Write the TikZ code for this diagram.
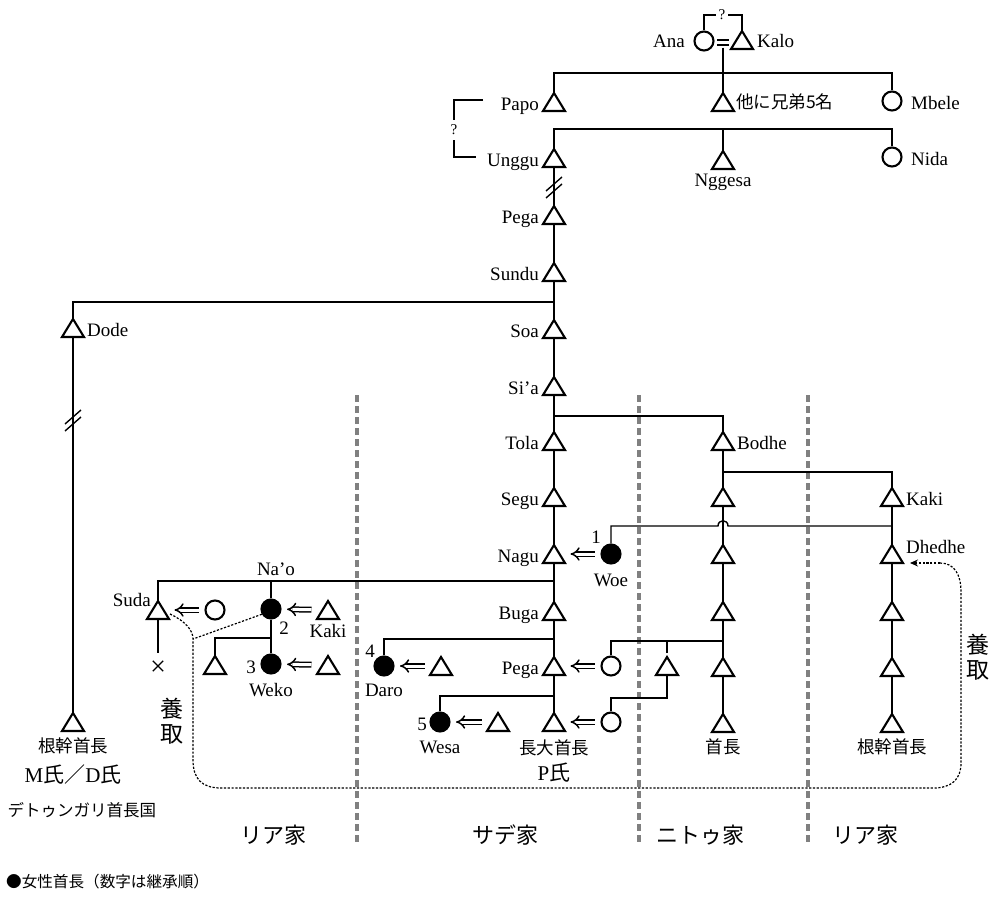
\documentclass[tikz,border=0pt]{standalone}
\usepackage{fontspec}
\setmainfont{Liberation Serif}
\newfontfamily\jp{Noto Sans CJK JP}
\usetikzlibrary{arrows.meta}
\tikzset{
 ln/.style={line width=1.4pt},
 shp/.style={line width=2.1pt},
 tri/.style={inner sep=0pt, outer sep=0pt, minimum width=22pt, minimum height=18pt},
 fem/.style={circle, draw, line width=2.1pt, minimum size=19pt, inner sep=0pt},
 ffem/.style={fem, fill=black},
 lbl/.style={inner sep=0pt, font=\fontsize{19}{21}\selectfont},
 qlbl/.style={inner ysep=5pt, inner xsep=2.5pt, font=\fontsize{15}{16}\selectfont},
 jlbl/.style={inner sep=0pt, font=\jp\fontsize{17.5}{20}\selectfont},
 jbig/.style={inner sep=0pt, font=\jp\fontsize{22}{24}\selectfont},
 imp/.style={double, double distance=3pt, line width=1.5pt, -{Implies}, shorten >=5.5pt, shorten <=5.5pt},
 dot/.style={line width=1.2pt, dash pattern=on 2.2pt off 1.6pt},
 sep/.style={line width=4pt, gray, dash pattern=on 7pt off 4pt},
}
\newcommand\kinT[2]{\node[tri] (#1) at (#2) {};\draw[shp] (#1.north)--(#1.south west)--(#1.south east)--cycle;}
\newcommand\kinBreak[1]{\draw[ln] ([shift={(-8,3)}]#1) -- ([shift={(8,-11)}]#1) ([shift={(-8,10)}]#1) -- ([shift={(8,-4)}]#1);}
\begin{document}
\begin{tikzpicture}[x=1pt,y=-1pt]
\useasboundingbox (0,0) rectangle (994,897);

% separators
\draw[sep] (357,395) -- (357,845);
\draw[sep] (639,395) -- (639,845);
\draw[sep] (808,395) -- (808,845);

% top couple
\node[fem] (ana) at (704,41) {};
\kinT{kalo}{742,40}
\node[lbl, anchor=base east] (anaL) at (685,47) {Ana};
\node[lbl, anchor=base west] (kaloL) at (757,47) {Kalo};
\node[qlbl] (q1) at (722,15) {?};
\draw[ln] (q1.west) -- (ana.north |- q1) -- (ana.north);
\draw[ln] (q1.east) -- (kalo.north |- q1) -- (kalo.north);
\coordinate (eq) at (723,42.5);
\draw[line width=1.8pt] ([shift={(-6,-2.7)}]eq) -- ([shift={(6,-2.7)}]eq) ([shift={(-6,2.7)}]eq) -- ([shift={(6,2.7)}]eq);
\coordinate (s1) at (723,73);
\draw[ln] ([shift={(0,5)}]eq) -- (s1);

% row 1
\kinT{papo}{554,102}
\kinT{oth}{723,102}
\node[fem] (mbele) at (892,101) {};
\draw[ln] (papo.north) -- (papo.north |- s1) -- (mbele.north |- s1) -- (mbele.north);
\draw[ln] (oth.north) -- (s1);
\node[lbl, anchor=base east] (papoL) at (539,110) {Papo};
\node[jlbl, anchor=west] (othL) at (736,102) {他に兄弟5名};
\node[lbl, anchor=base west] (mbeleL) at (911,109) {Mbele};

% row 2
\coordinate (s2) at (723,129);
\kinT{unggu}{554,158}
\kinT{ngg}{723,160}
\node[fem] (nida) at (892,157) {};
\draw[ln] (unggu.north) -- (unggu.north |- s2) -- (nida.north |- s2) -- (nida.north);
\draw[ln] (ngg.north) -- (s2);
\node[lbl, anchor=base east] (ungguL) at (539,166) {Unggu};
\node[lbl, anchor=base] (nggL) at (723,186) {Nggesa};
\node[lbl, anchor=base west] (nidaL) at (911,165) {Nida};

% ? bracket
\node[qlbl] (q2) at (454,130) {?};
\coordinate (qa) at (483,100);
\coordinate (qb) at (476,157);
\draw[ln] (qa) -| (q2.north);
\draw[ln] (q2.south) |- (qb);

% main column
\kinT{pega1}{554,215}
\kinT{sundu}{554,272}
\kinT{soa}{554,329}
\kinT{sia}{554,386}
\kinT{tola}{554,441}
\kinT{segu}{554,497}
\kinT{nagu}{554,554}
\kinT{buga}{554,611}
\kinT{pega2}{554,666}
\kinT{chief}{554,722}
\draw[ln] (unggu.south) -- (pega1.north);
\coordinate (br1) at (554,188);
\kinBreak{br1}
\draw[ln] (pega1.south) -- (sundu.north) (sundu.south) -- (soa.north) (soa.south) -- (sia.north)
  (sia.south) -- (tola.north) (tola.south) -- (segu.north) (segu.south) -- (nagu.north)
  (nagu.south) -- (buga.north) (buga.south) -- (pega2.north) (pega2.south) -- (chief.north);
\node[lbl, anchor=base east] (pega1L) at (539,223) {Pega};
\node[lbl, anchor=base east] (sunduL) at (539,280) {Sundu};
\node[lbl, anchor=base east] (soaL) at (539,337) {Soa};
\node[lbl, anchor=base east] (siaL) at (539,394) {Si’a};
\node[lbl, anchor=base east] (tolaL) at (539,449) {Tola};
\node[lbl, anchor=base east] (seguL) at (539,505) {Segu};
\node[lbl, anchor=base east] (naguL) at (539,562) {Nagu};
\node[lbl, anchor=base east] (bugaL) at (539,619) {Buga};
\node[lbl, anchor=base east] (pega2L) at (539,674) {Pega};
\node[jlbl] (chiefL) at (554,748) {長大首長};
\node[inner sep=0pt] (pL) at (554,773) {\fontsize{21}{23}\selectfont P{\jp 氏}};

% Dode branch
\coordinate (j1) at (554,302);
\kinT{dode}{73,328}
\kinT{rootL}{73,722}
\draw[ln] (dode.north) |- (j1);
\draw[ln] (dode.south) -- (rootL.north);
\coordinate (br2) at (73,421);
\kinBreak{br2}
\node[lbl, anchor=base west] (dodeL) at (87,336) {Dode};
\node[jlbl] (rootLL) at (73,746) {根幹首長};
\node[inner sep=0pt] (mdL) at (73,775) {\fontsize{21}{23}\selectfont M{\jp 氏／}D{\jp 氏}};
\node[inner sep=0pt, font=\jp\fontsize{16.5}{18}\selectfont] (detL) at (82,810) {デトゥンガリ首長国};

% Bodhe branch
\coordinate (j2) at (554,416);
\kinT{bodhe}{723,441}
\draw[ln] (bodhe.north) |- (j2);
\node[lbl, anchor=base west] (bodheL) at (737,449) {Bodhe};
\coordinate (j3) at (723,472);
\kinT{b1}{723,497}
\kinT{b2}{723,554}
\kinT{b3}{723,611}
\kinT{b4}{723,667}
\kinT{b5}{723,723}
\kinT{kaki2}{892,497}
\kinT{dhedhe}{892,554}
\kinT{r2}{892,611}
\kinT{r3}{892,667}
\kinT{r4}{892,723}
\draw[ln] (bodhe.south) -- (b1.north) (b1.south) -- (b2.north) (b2.south) -- (b3.north)
  (b3.south) -- (b4.north) (b4.south) -- (b5.north);
\draw[ln] (kaki2.north) |- (j3);
\draw[ln] (kaki2.south) -- (dhedhe.north) (dhedhe.south) -- (r2.north) (r2.south) -- (r3.north) (r3.south) -- (r4.north);
\node[lbl, anchor=base west] (kaki2L) at (906,505) {Kaki};
\node[lbl, anchor=base west] (dhedheL) at (906,553) {Dhedhe};
\node[jlbl] (b5L) at (723,747) {首長};
\node[jlbl] (r4L) at (892,747) {根幹首長};

% Woe
\node[ffem] (woe) at (611,554) {};
\coordinate (j4) at (723,526);
\draw[ln] (woe.north) -- (woe.north |- j4) -- ([xshift=-5pt]j4)
  .. controls ([shift={(-5,-7)}]j4) and ([shift={(5,-7)}]j4) .. ([xshift=5pt]j4) -- (kaki2.south |- j4);
\draw[imp] (woe) -- (nagu);
\node[lbl, anchor=base] (woe1) at (596,543) {1};
\node[lbl, anchor=base] (woeL) at (611,586) {Woe};

% Na'o branch
\coordinate (j5) at (554,581);
\kinT{suda}{158,610}
\node[fem] (sudaW) at (215,610) {};
\node[ffem] (nao) at (271,609) {};
\kinT{kaki1}{328,610}
\draw[ln] (suda.north) |- (j5);
\draw[ln] (nao.north) -- (nao.north |- j5);
\draw[imp] (sudaW) -- (suda);
\draw[imp] (kaki1) -- (nao);
\node[lbl, anchor=base east] (sudaL) at (151,606) {Suda};
\node[lbl, anchor=base] (naoL) at (276,575) {Na’o};
\node[lbl, anchor=base] (nao2) at (284,634) {2};
\node[lbl, anchor=base] (kaki1L) at (328,637) {Kaki};
\node[inner sep=0pt, minimum size=10pt] (cross) at (158,666) {};
\draw[ln] (cross.north west) -- (cross.south east) (cross.north east) -- (cross.south west);
\coordinate (sudaEnd) at (158,653);
\draw[ln] (suda.south) -- (sudaEnd);
\coordinate (j6) at (271,638);
\kinT{sib}{215,665}
\node[ffem] (weko) at (271,664) {};
\kinT{wekoH}{328,665}
\draw[ln] (nao.south) -- (weko.north);
\draw[ln] (sib.north) |- (j6);
\draw[imp] (wekoH) -- (weko);
\node[lbl, anchor=base] (weko3) at (251,673) {3};
\node[lbl, anchor=base] (wekoL) at (271,696) {Weko};

% Daro, Wesa
\coordinate (j7) at (554,639);
\node[ffem] (daro) at (384,666) {};
\kinT{daroH}{441,666}
\draw[ln] (daro.north) |- (j7);
\draw[imp] (daroH) -- (daro);
\node[lbl, anchor=base] (daro4) at (370,657) {4};
\node[lbl, anchor=base] (daroL) at (384,696) {Daro};
\coordinate (j8) at (554,696);
\node[ffem] (wesa) at (440,722) {};
\kinT{wesaH}{498,722}
\draw[ln] (wesa.north) |- (j8);
\draw[imp] (wesaH) -- (wesa);
\node[lbl, anchor=base] (wesa5) at (422,730) {5};
\node[lbl, anchor=base] (wesaL) at (440,753) {Wesa};

% wives of Pega and chief
\node[fem] (w1) at (611,666) {};
\node[fem] (w2) at (611,722) {};
\kinT{tk}{667,666}
\coordinate (j9) at (723,641);
\coordinate (tkTop) at (667,653);
\coordinate (j10) at (611,698);
\draw[ln] (w1.north) |- (j9);
\draw[ln] (tkTop) -- (tkTop |- j9);
\draw[ln] (tk.south) |- (j10) -- (w2.north);
\draw[imp] (w1) -- (pega2);
\draw[imp] (w2) -- (chief);

% adoption dotted path
\coordinate (ad0) at (170,614);
\coordinate (adJ) at (193,639);
\coordinate (adEnd) at (910,563);
\draw[dot] (ad0) .. controls (185,621) and (193,630) .. (adJ) -- (193,760)
  .. controls (193,779) and (202,788) .. (221,788) -- (933,788)
  .. controls (952,788) and (961,779) .. (961,763) -- (961,592)
  .. controls (961,574) and (954,563) .. (940,563);
\draw[dot, -{Stealth[length=8pt,width=7pt]}] (940,563) -- (adEnd);
\draw[dot] (nao.210) -- (adJ);
\node[inner sep=0pt, align=center, font=\jp\fontsize{23}{24.5}\selectfont] (adL) at (172,721) {養\\取};
\node[inner sep=0pt, align=center, font=\jp\fontsize{23}{24.5}\selectfont] (adR) at (978,657) {養\\取};

% house labels
\node[jbig] (h1) at (273,835) {リア家};
\node[jbig] (h2) at (505,835) {サデ家};
\node[jbig] (h3) at (700,835) {ニトゥ家};
\node[jbig] (h4) at (865,835) {リア家};

% legend
\node[inner sep=0pt, anchor=west, font=\jp\fontsize{15.6}{17}\selectfont] (leg) at (6,882) {●女性首長（数字は継承順）};
\end{tikzpicture}
\end{document}
